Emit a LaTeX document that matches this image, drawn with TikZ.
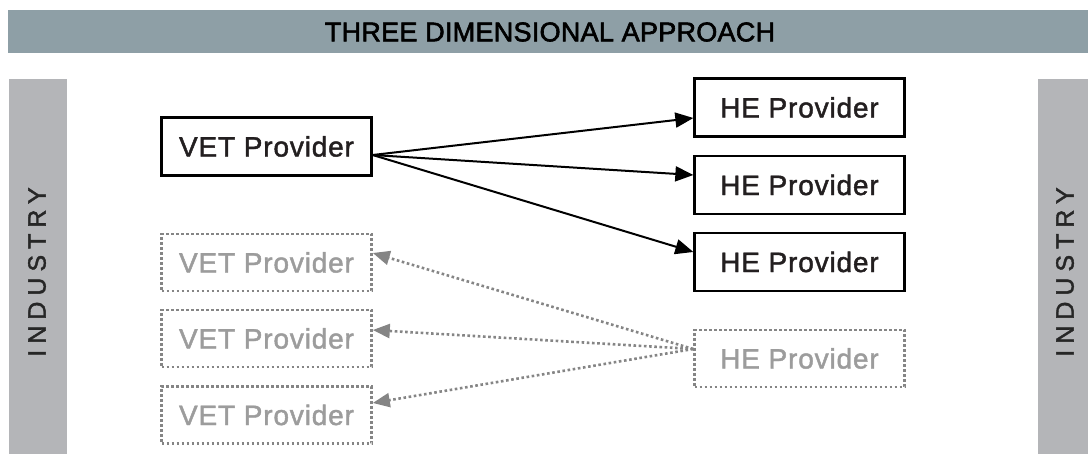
\documentclass[tikz,border=0pt]{standalone}
\usepackage{fontspec}
\setmainfont{Liberation Sans}
\usetikzlibrary{arrows.meta}
\definecolor{titlebar}{HTML}{8E9FA6}
\definecolor{indbar}{HTML}{B4B5B8}
\definecolor{darktext}{HTML}{231F20}
\definecolor{greytext}{HTML}{9C9C9C}
\definecolor{greyline}{HTML}{858585}
\tikzset{
  solidbox/.style={draw=black, line width=2.3pt, minimum width=210pt, minimum height=58pt, inner sep=0pt,
    text=darktext, font=\fontsize{28}{30}\selectfont\addfontfeature{LetterSpace=3,FakeBold=1.6}},
  dotbox/.style={draw=greyline, line width=2.6pt, dash pattern=on 2.6pt off 2.4pt, minimum width=210pt, minimum height=57pt, inner sep=0pt,
    text=greytext, font=\fontsize{28}{30}\selectfont\addfontfeature{LetterSpace=3,FakeBold=1.6}},
  solidarrow/.style={line width=2pt, -{Triangle[length=18pt,width=15pt]}},
  dotarrow/.style={draw=greyline, line width=2.6pt, dash pattern=on 2.6pt off 2.6pt, -{Triangle[length=17pt,width=14pt,fill=greyline]}},
  indtext/.style={rotate=90, text=black!85, font=\fontsize{25}{27}\selectfont\addfontfeature{LetterSpace=24,FakeBold=1.6}}
}
\begin{document}
\begin{tikzpicture}[x=1pt,y=-1pt]
\useasboundingbox (0,0) rectangle (1088,454);
% title bar
\fill[titlebar] (8,10) rectangle (1088,53);
\node[font=\fontsize{27}{29}\selectfont\addfontfeature{LetterSpace=1,FakeBold=2.2}, text=black] (title) at (550,32) {THREE DIMENSIONAL APPROACH};
% industry bars
\fill[indbar] (9,79) rectangle (67,454);
\fill[indbar] (1038,79) rectangle (1088,454);
\node[indtext] (indl) at (37,272) {INDUSTRY};
\node[indtext] (indr) at (1065,272) {INDUSTRY};
% boxes
\node[solidbox] (vet) at (266.5,146.5) {VET Provider};
\node[solidbox] (he1) at (799.5,107.5) {HE Provider};
\node[solidbox] (he2) at (799.5,185) {HE Provider};
\node[solidbox] (he3) at (799.5,262) {HE Provider};
\node[dotbox] (gvet1) at (266.5,262.5) {VET Provider};
\node[dotbox] (gvet2) at (266.5,338.5) {VET Provider};
\node[dotbox] (gvet3) at (266.5,415) {VET Provider};
\node[dotbox] (ghe) at (799.5,358.5) {HE Provider};
% arrows
\draw[solidarrow] ([yshift=-8.5pt]vet.east) -- ([yshift=-10.5pt]he1.west);
\draw[solidarrow] ([yshift=-8.5pt]vet.east) -- ([yshift=10pt]he2.west);
\draw[solidarrow] ([yshift=-8.5pt]vet.east) -- ([yshift=10pt]he3.west);
\draw[dotarrow] ([yshift=9.5pt]ghe.west) -- ([yshift=9.5pt]gvet1.east);
\draw[dotarrow] ([yshift=9.5pt]ghe.west) -- ([yshift=8.5pt]gvet2.east);
\draw[dotarrow] ([yshift=9.5pt]ghe.west) -- ([yshift=12pt]gvet3.east);
\end{tikzpicture}
\end{document}
